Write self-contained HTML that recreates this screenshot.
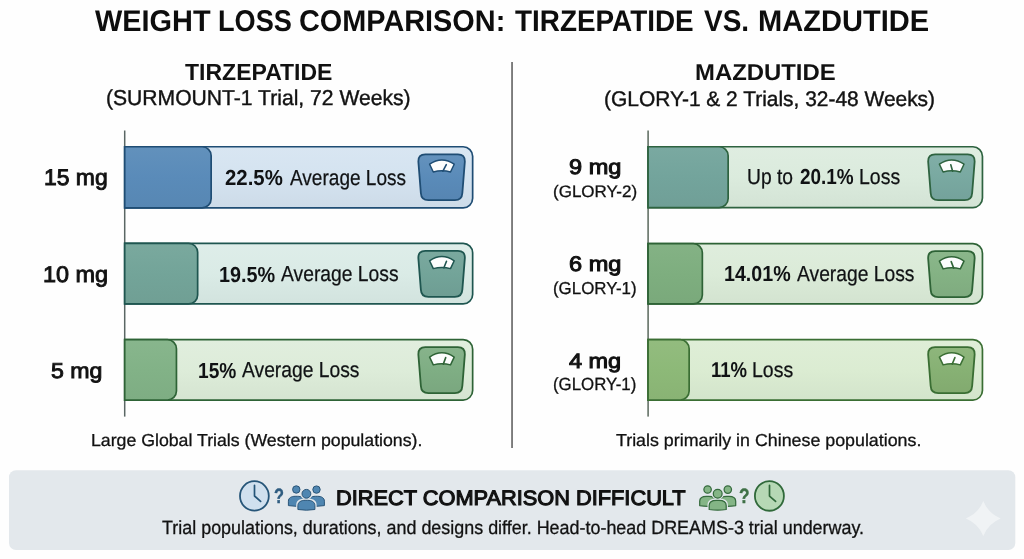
<!DOCTYPE html>
<html lang="en"><head><meta charset="utf-8"><title>Weight Loss Comparison: Tirzepatide vs. Mazdutide</title>
<style>
html,body{margin:0;padding:0;background:#fefefe;}
body{width:1024px;height:559px;position:relative;overflow:hidden;font-family:'Liberation Sans', sans-serif;text-rendering:geometricPrecision;}
.t{position:absolute;white-space:pre;line-height:1;transform-origin:0 0;}
svg{position:absolute;left:0;top:0;}
</style></head><body>
<svg width="1024" height="559" viewBox="0 0 1024 559"><rect x="511.1" y="62" width="1.9" height="386" fill="#7b7b7b"/><rect x="123.95" y="130.5" width="1.5" height="286.1" fill="#5a6664"/><rect x="647.3" y="130.5" width="1.6" height="286.1" fill="#647267"/><defs><linearGradient id="g1" x1="0" y1="0" x2="0" y2="1"><stop offset="0" stop-color="#d9e6f2"/><stop offset="0.5" stop-color="#d4e3f0"/><stop offset="1" stop-color="#cddbe8"/></linearGradient><linearGradient id="g2" x1="0" y1="0" x2="0" y2="1"><stop offset="0" stop-color="#6291bc"/><stop offset="0.5" stop-color="#5a8bb9"/><stop offset="1" stop-color="#5787b3"/></linearGradient><linearGradient id="g3" x1="0" y1="0" x2="0" y2="1"><stop offset="0" stop-color="#6492bd"/><stop offset="0.5" stop-color="#5a8bb9"/><stop offset="1" stop-color="#5685b2"/></linearGradient></defs><path d="M124.7,146.75 H463.15 A9.5,9.5 0 0 1 472.65,156.25 V198.35 A9.5,9.5 0 0 1 463.15,207.85 H124.7 Z" fill="url(#g1)" stroke="#1f4d74" stroke-width="1.7"/><path d="M124.7,146.75 H202.15 A9,9 0 0 1 211.15,155.75 V198.85 A9,9 0 0 1 202.15,207.85 H124.7 Z" fill="url(#g2)" stroke="#1f4d74" stroke-width="1.7"/><path d="M425.3,154.3 H457.9 Q465.1,154.3 464.85,161.5 L462.35,193 Q462,200.2 454.8,200.2 H428.4 Q421.2,200.2 420.85,193 L418.35,161.5 Q418.1,154.3 425.3,154.3 Z" fill="url(#g3)" stroke="#1f4d74" stroke-width="1.8" stroke-linejoin="round"/><path d="M429.6,164.2 Q441.9,155.6 454.2,164.2 L450.5,172.0 Q441.9,169.6 433.3,172.0 Z" fill="#fcfdfd" stroke="#1f4d74" stroke-width="1.5" stroke-linejoin="round"/><path d="M442.9,171.2 L446.3,164.7" stroke="#1f4d74" stroke-width="1.6" stroke-linecap="round" fill="none"/><defs><linearGradient id="g4" x1="0" y1="0" x2="0" y2="1"><stop offset="0" stop-color="#deede9"/><stop offset="0.5" stop-color="#daebe6"/><stop offset="1" stop-color="#d2e3de"/></linearGradient><linearGradient id="g5" x1="0" y1="0" x2="0" y2="1"><stop offset="0" stop-color="#7aa99e"/><stop offset="0.5" stop-color="#73a499"/><stop offset="1" stop-color="#709f94"/></linearGradient><linearGradient id="g6" x1="0" y1="0" x2="0" y2="1"><stop offset="0" stop-color="#7ba99f"/><stop offset="0.5" stop-color="#73a499"/><stop offset="1" stop-color="#6e9d93"/></linearGradient></defs><path d="M124.7,243.35 H463.15 A9.5,9.5 0 0 1 472.65,252.85 V294.45 A9.5,9.5 0 0 1 463.15,303.95 H124.7 Z" fill="url(#g4)" stroke="#1f5650" stroke-width="1.7"/><path d="M124.7,243.35 H188.65 A9,9 0 0 1 197.65,252.35 V294.95 A9,9 0 0 1 188.65,303.95 H124.7 Z" fill="url(#g5)" stroke="#1f5650" stroke-width="1.7"/><path d="M425.3,250.9 H457.9 Q465.1,250.9 464.85,258.1 L462.35,289.6 Q462,296.8 454.8,296.8 H428.4 Q421.2,296.8 420.85,289.6 L418.35,258.1 Q418.1,250.9 425.3,250.9 Z" fill="url(#g6)" stroke="#1f5650" stroke-width="1.8" stroke-linejoin="round"/><path d="M429.6,260.8 Q441.9,252.2 454.2,260.8 L450.5,268.6 Q441.9,266.2 433.3,268.6 Z" fill="#fcfdfd" stroke="#1f5650" stroke-width="1.5" stroke-linejoin="round"/><path d="M443.9,267.8 L446.5,261.3" stroke="#1f5650" stroke-width="1.6" stroke-linecap="round" fill="none"/><defs><linearGradient id="g7" x1="0" y1="0" x2="0" y2="1"><stop offset="0" stop-color="#e1eede"/><stop offset="0.5" stop-color="#ddecd9"/><stop offset="1" stop-color="#d5e4d1"/></linearGradient><linearGradient id="g8" x1="0" y1="0" x2="0" y2="1"><stop offset="0" stop-color="#88b68d"/><stop offset="0.5" stop-color="#82b287"/><stop offset="1" stop-color="#7ead83"/></linearGradient><linearGradient id="g9" x1="0" y1="0" x2="0" y2="1"><stop offset="0" stop-color="#87b38b"/><stop offset="0.5" stop-color="#7fae84"/><stop offset="1" stop-color="#7aa77f"/></linearGradient></defs><path d="M124.7,339.65 H463.15 A9.5,9.5 0 0 1 472.65,349.15 V390.55 A9.5,9.5 0 0 1 463.15,400.05 H124.7 Z" fill="url(#g7)" stroke="#2e6336" stroke-width="1.7"/><path d="M124.7,339.65 H167.45 A9,9 0 0 1 176.45,348.65 V391.05 A9,9 0 0 1 167.45,400.05 H124.7 Z" fill="url(#g8)" stroke="#2e6336" stroke-width="1.7"/><path d="M425.3,347.2 H457.9 Q465.1,347.2 464.85,354.4 L462.35,385.9 Q462,393.1 454.8,393.1 H428.4 Q421.2,393.1 420.85,385.9 L418.35,354.4 Q418.1,347.2 425.3,347.2 Z" fill="url(#g9)" stroke="#2e6336" stroke-width="1.8" stroke-linejoin="round"/><path d="M429.6,357.1 Q441.9,348.5 454.2,357.1 L450.5,364.9 Q441.9,362.5 433.3,364.9 Z" fill="#fcfdfd" stroke="#2e6336" stroke-width="1.5" stroke-linejoin="round"/><path d="M443.3,364.1 L445.7,357.6" stroke="#2e6336" stroke-width="1.6" stroke-linecap="round" fill="none"/><defs><linearGradient id="g10" x1="0" y1="0" x2="0" y2="1"><stop offset="0" stop-color="#dfede1"/><stop offset="0.5" stop-color="#dbebdd"/><stop offset="1" stop-color="#d3e3d5"/></linearGradient><linearGradient id="g11" x1="0" y1="0" x2="0" y2="1"><stop offset="0" stop-color="#7aa9a1"/><stop offset="0.5" stop-color="#73a49c"/><stop offset="1" stop-color="#709f97"/></linearGradient><linearGradient id="g12" x1="0" y1="0" x2="0" y2="1"><stop offset="0" stop-color="#81aea7"/><stop offset="0.5" stop-color="#79a9a1"/><stop offset="1" stop-color="#74a29b"/></linearGradient></defs><path d="M648.1,146.75 H972.95 A9.5,9.5 0 0 1 982.45,156.25 V198.05 A9.5,9.5 0 0 1 972.95,207.55 H648.1 Z" fill="url(#g10)" stroke="#2e6340" stroke-width="1.7"/><path d="M648.1,146.75 H719.15 A9,9 0 0 1 728.15,155.75 V198.55 A9,9 0 0 1 719.15,207.55 H648.1 Z" fill="url(#g11)" stroke="#2e6340" stroke-width="1.7"/><path d="M935.1,154.3 H967.7 Q974.9,154.3 974.65,161.5 L972.15,193 Q971.8,200.2 964.6,200.2 H938.2 Q931.0,200.2 930.65,193 L928.15,161.5 Q927.9,154.3 935.1,154.3 Z" fill="url(#g12)" stroke="#2e6340" stroke-width="1.8" stroke-linejoin="round"/><path d="M939.4,164.2 Q951.7,155.6 964,164.2 L960.3,172.0 Q951.7,169.6 943.1,172.0 Z" fill="#fcfdfd" stroke="#2e6340" stroke-width="1.5" stroke-linejoin="round"/><path d="M952.6,171.2 L950.8,164.7" stroke="#2e6340" stroke-width="1.6" stroke-linecap="round" fill="none"/><defs><linearGradient id="g13" x1="0" y1="0" x2="0" y2="1"><stop offset="0" stop-color="#dfeddd"/><stop offset="0.5" stop-color="#dbebd8"/><stop offset="1" stop-color="#d3e3d0"/></linearGradient><linearGradient id="g14" x1="0" y1="0" x2="0" y2="1"><stop offset="0" stop-color="#84b285"/><stop offset="0.5" stop-color="#7eae7f"/><stop offset="1" stop-color="#7aa97b"/></linearGradient><linearGradient id="g15" x1="0" y1="0" x2="0" y2="1"><stop offset="0" stop-color="#8bb78b"/><stop offset="0.5" stop-color="#84b284"/><stop offset="1" stop-color="#7fab7f"/></linearGradient></defs><path d="M648.1,243.65 H972.95 A9.5,9.5 0 0 1 982.45,253.15 V294.45 A9.5,9.5 0 0 1 972.95,303.95 H648.1 Z" fill="url(#g13)" stroke="#2e6336" stroke-width="1.7"/><path d="M648.1,243.65 H693.35 A9,9 0 0 1 702.35,252.65 V294.95 A9,9 0 0 1 693.35,303.95 H648.1 Z" fill="url(#g14)" stroke="#2e6336" stroke-width="1.7"/><path d="M935.1,251.2 H967.7 Q974.9,251.2 974.65,258.4 L972.15,289.9 Q971.8,297.1 964.6,297.1 H938.2 Q931.0,297.1 930.65,289.9 L928.15,258.4 Q927.9,251.2 935.1,251.2 Z" fill="url(#g15)" stroke="#2e6336" stroke-width="1.8" stroke-linejoin="round"/><path d="M939.4,261.1 Q951.7,252.5 964,261.1 L960.3,268.9 Q951.7,266.5 943.1,268.9 Z" fill="#fcfdfd" stroke="#2e6336" stroke-width="1.5" stroke-linejoin="round"/><path d="M953.7,268.1 L951.2,261.6" stroke="#2e6336" stroke-width="1.6" stroke-linecap="round" fill="none"/><defs><linearGradient id="g16" x1="0" y1="0" x2="0" y2="1"><stop offset="0" stop-color="#dfeed7"/><stop offset="0.5" stop-color="#dbecd2"/><stop offset="1" stop-color="#d3e4cb"/></linearGradient><linearGradient id="g17" x1="0" y1="0" x2="0" y2="1"><stop offset="0" stop-color="#93bc7f"/><stop offset="0.5" stop-color="#8db978"/><stop offset="1" stop-color="#89b374"/></linearGradient><linearGradient id="g18" x1="0" y1="0" x2="0" y2="1"><stop offset="0" stop-color="#8eb67c"/><stop offset="0.5" stop-color="#87b174"/><stop offset="1" stop-color="#82aa6f"/></linearGradient></defs><path d="M648.1,339.65 H972.95 A9.5,9.5 0 0 1 982.45,349.15 V390.55 A9.5,9.5 0 0 1 972.95,400.05 H648.1 Z" fill="url(#g16)" stroke="#3a6e33" stroke-width="1.7"/><path d="M648.1,339.65 H680.15 A9,9 0 0 1 689.15,348.65 V391.05 A9,9 0 0 1 680.15,400.05 H648.1 Z" fill="url(#g17)" stroke="#3a6e33" stroke-width="1.7"/><path d="M935.1,347.2 H967.7 Q974.9,347.2 974.65,354.4 L972.15,385.9 Q971.8,393.1 964.6,393.1 H938.2 Q931.0,393.1 930.65,385.9 L928.15,354.4 Q927.9,347.2 935.1,347.2 Z" fill="url(#g18)" stroke="#3a6e33" stroke-width="1.8" stroke-linejoin="round"/><path d="M939.4,357.1 Q951.7,348.5 964,357.1 L960.3,364.9 Q951.7,362.5 943.1,364.9 Z" fill="#fcfdfd" stroke="#3a6e33" stroke-width="1.5" stroke-linejoin="round"/><path d="M952.2,364.1 L954.9,357.6" stroke="#3a6e33" stroke-width="1.6" stroke-linecap="round" fill="none"/><rect x="9" y="470.2" width="1006.3" height="79.8" rx="7" fill="#e3e8ec"/><path d="M983.3,500.9 Q988.3,513.4 1000.7,518.4 Q988.3,523.4 983.3,535.9 Q978.3,523.4 965.9,518.4 Q978.3,513.4 983.3,500.9 Z" fill="#f0f3f5"/><ellipse cx="254.4" cy="495.9" rx="14.4" ry="14.7" fill="#d0e0ee" stroke="#265578" stroke-width="1.8"/><path d="M254.5,485.3 V496.0 L260.6,501.4" fill="none" stroke="#265578" stroke-width="1.7" stroke-linecap="round" stroke-linejoin="round"/><circle cx="296.3" cy="489.5" r="3.7" fill="#4f86b1" stroke="#2a5578" stroke-width="1.0"/><path d="M288.4,505.6 V501.2 C288.4,497.77 291.56,496.3 295.12,496.3 H297.49 C301.04,496.3 304.2,497.77 304.2,501.2 V505.6 Q296.3,507.0 288.4,505.6 Z" fill="#4f86b1" stroke="#2a5578" stroke-width="1.0" stroke-linejoin="round"/><circle cx="316.5" cy="489.6" r="3.7" fill="#4f86b1" stroke="#2a5578" stroke-width="1.0"/><path d="M308.6,505.6 V501.2 C308.6,497.77 311.76,496.3 315.31,496.3 H317.69 C321.24,496.3 324.4,497.77 324.4,501.2 V505.6 Q316.5,507.0 308.6,505.6 Z" fill="#4f86b1" stroke="#2a5578" stroke-width="1.0" stroke-linejoin="round"/><circle cx="306.4" cy="493.8" r="6.1" fill="#e3e8ec"/><path d="M296.2,511.5 V505 C296.2,500 300.4,498.6 306.4,498.6 C312.4,498.6 316.6,500 316.6,505 V511.5 Z" fill="#e3e8ec"/><circle cx="306.4" cy="493.8" r="4.4" fill="#4f86b1" stroke="#2a5578" stroke-width="1.0"/><path d="M297.9,509.5 V505.57 C297.9,501.88 301.3,500.3 305.12,500.3 H307.67 C311.5,500.3 314.9,501.88 314.9,505.57 V509.5 Q306.4,510.9 297.9,509.5 Z" fill="#4f86b1" stroke="#2a5578" stroke-width="1.0" stroke-linejoin="round"/><circle cx="707.6" cy="489.5" r="3.7" fill="#84b586" stroke="#366b3e" stroke-width="1.25"/><path d="M699.7,505.6 V501.2 C699.7,497.77 702.86,496.3 706.41,496.3 H708.78 C712.34,496.3 715.5,497.77 715.5,501.2 V505.6 Q707.6,507.0 699.7,505.6 Z" fill="#84b586" stroke="#366b3e" stroke-width="1.25" stroke-linejoin="round"/><circle cx="727.8" cy="489.6" r="3.7" fill="#84b586" stroke="#366b3e" stroke-width="1.25"/><path d="M719.9,505.6 V501.2 C719.9,497.77 723.06,496.3 726.62,496.3 H728.98 C732.54,496.3 735.7,497.77 735.7,501.2 V505.6 Q727.8,507.0 719.9,505.6 Z" fill="#84b586" stroke="#366b3e" stroke-width="1.25" stroke-linejoin="round"/><circle cx="717.7" cy="493.8" r="6.1" fill="#e3e8ec"/><path d="M707.5,511.5 V505 C707.5,500 711.7,498.6 717.7,498.6 C723.7,498.6 727.9,500 727.9,505 V511.5 Z" fill="#e3e8ec"/><circle cx="717.7" cy="493.8" r="4.4" fill="#84b586" stroke="#366b3e" stroke-width="1.25"/><path d="M709.2,509.5 V505.57 C709.2,501.88 712.6,500.3 716.42,500.3 H718.97 C722.8,500.3 726.2,501.88 726.2,505.57 V509.5 Q717.7,510.9 709.2,509.5 Z" fill="#84b586" stroke="#366b3e" stroke-width="1.25" stroke-linejoin="round"/><ellipse cx="769.4" cy="495.95" rx="14.5" ry="14.8" fill="#b6d8b5" stroke="#30693a" stroke-width="1.8"/><path d="M769.5,485.35 V496.05 L775.6,501.45" fill="none" stroke="#30693a" stroke-width="1.7" stroke-linecap="round" stroke-linejoin="round"/></svg>
<div class="t" style="left:94.75px;top:7px;font-size:29.93px;font-weight:700;color:#0d0d0d;transform:scaleX(0.9660);">WEIGHT</div>
<div class="t" style="left:217.68px;top:7px;font-size:29.93px;font-weight:700;color:#0d0d0d;transform:scaleX(0.9075);">LOSS</div>
<div class="t" style="left:299.04px;top:7px;font-size:29.93px;font-weight:700;color:#0d0d0d;transform:scaleX(0.9643);">COMPARISON:</div>
<div class="t" style="left:514.50px;top:7px;font-size:29.93px;font-weight:700;color:#0d0d0d;transform:scaleX(0.9319);">TIRZEPATIDE</div>
<div class="t" style="left:703.75px;top:7px;font-size:29.93px;font-weight:700;color:#0d0d0d;transform:scaleX(0.9352);">VS.</div>
<div class="t" style="left:757.56px;top:7px;font-size:29.93px;font-weight:700;color:#0d0d0d;transform:scaleX(0.9709);">MAZDUTIDE</div>
<div class="t" style="left:185.00px;top:61px;font-size:23.33px;font-weight:700;color:#111;transform:scaleX(0.9866);">TIRZEPATIDE</div>
<div class="t" style="left:105.77px;top:87px;font-size:21.58px;font-weight:400;color:#121212;transform:scaleX(0.9782);-webkit-text-stroke:0.4px #121212;">(SURMOUNT-1 Trial, 72 Weeks)</div>
<div class="t" style="left:694.96px;top:61px;font-size:23.04px;font-weight:700;color:#111;transform:scaleX(1.0373);">MAZDUTIDE</div>
<div class="t" style="left:604.01px;top:89px;font-size:21.14px;font-weight:400;color:#121212;transform:scaleX(0.9905);-webkit-text-stroke:0.4px #121212;">(GLORY-1 &amp; 2 Trials, 32-48 Weeks)</div>
<div class="t" style="left:43.74px;top:167px;font-size:22.62px;font-weight:400;color:#111;transform:scaleX(1.0139);-webkit-text-stroke:0.9px #111;">15 mg</div>
<div class="t" style="left:42.97px;top:263px;font-size:22.69px;font-weight:400;color:#111;transform:scaleX(1.0316);-webkit-text-stroke:0.9px #111;">10 mg</div>
<div class="t" style="left:50.50px;top:360px;font-size:21.58px;font-weight:400;color:#111;transform:scaleX(1.0733);-webkit-text-stroke:0.9px #111;">5 mg</div>
<div class="t" style="left:224.80px;top:167px;font-size:21.74px;font-weight:700;color:#101214;transform:scaleX(0.9377);">22.5%</div>
<div class="t" style="left:289.53px;top:167px;font-size:21.80px;font-weight:400;color:#101214;transform:scaleX(0.8732);-webkit-text-stroke:0.25px #101214;">Average Loss</div>
<div class="t" style="left:218.99px;top:264px;font-size:21.74px;font-weight:700;color:#101214;transform:scaleX(0.9117);">19.5%</div>
<div class="t" style="left:281.03px;top:263px;font-size:21.80px;font-weight:400;color:#101214;transform:scaleX(0.8846);-webkit-text-stroke:0.25px #101214;">Average Loss</div>
<div class="t" style="left:198.12px;top:360px;font-size:21.74px;font-weight:700;color:#101214;transform:scaleX(0.8810);">15%</div>
<div class="t" style="left:242.43px;top:359px;font-size:21.80px;font-weight:400;color:#101214;transform:scaleX(0.8838);-webkit-text-stroke:0.25px #101214;">Average Loss</div>
<div class="t" style="left:569.40px;top:157px;font-size:21.14px;font-weight:400;color:#111;transform:scaleX(1.1144);-webkit-text-stroke:1.0px #111;">9 mg</div>
<div class="t" style="left:552.99px;top:184px;font-size:16.59px;font-weight:400;color:#121212;transform:scaleX(1.0256);-webkit-text-stroke:0.3px #121212;">(GLORY-2)</div>
<div class="t" style="left:569.40px;top:254px;font-size:21.14px;font-weight:400;color:#111;transform:scaleX(1.1144);-webkit-text-stroke:1.0px #111;">6 mg</div>
<div class="t" style="left:553.33px;top:280px;font-size:17.32px;font-weight:400;color:#121212;transform:scaleX(0.9755);-webkit-text-stroke:0.3px #121212;">(GLORY-1)</div>
<div class="t" style="left:569.00px;top:352px;font-size:20.84px;font-weight:400;color:#111;transform:scaleX(1.1261);-webkit-text-stroke:1.0px #111;">4 mg</div>
<div class="t" style="left:553.34px;top:376px;font-size:17.68px;font-weight:400;color:#121212;transform:scaleX(0.9530);-webkit-text-stroke:0.3px #121212;">(GLORY-1)</div>
<div class="t" style="left:747.42px;top:166px;font-size:21.80px;font-weight:400;color:#101214;transform:scaleX(0.8824);-webkit-text-stroke:0.25px #101214;">Up to</div>
<div class="t" style="left:800.05px;top:166px;font-size:21.74px;font-weight:700;color:#101214;transform:scaleX(0.8714);">20.1%</div>
<div class="t" style="left:858.81px;top:166px;font-size:21.80px;font-weight:400;color:#101214;transform:scaleX(0.8933);-webkit-text-stroke:0.25px #101214;">Loss</div>
<div class="t" style="left:724.10px;top:263px;font-size:21.74px;font-weight:700;color:#101214;transform:scaleX(0.9042);">14.01%</div>
<div class="t" style="left:796.53px;top:263px;font-size:21.80px;font-weight:400;color:#101214;transform:scaleX(0.8838);-webkit-text-stroke:0.25px #101214;">Average Loss</div>
<div class="t" style="left:711.33px;top:360px;font-size:21.45px;font-weight:700;color:#101214;transform:scaleX(0.8652);">11%</div>
<div class="t" style="left:752.49px;top:360px;font-size:21.51px;font-weight:400;color:#101214;transform:scaleX(0.9068);-webkit-text-stroke:0.25px #101214;">Loss</div>
<div class="t" style="left:91.48px;top:432px;font-size:17.37px;font-weight:400;color:#121212;transform:scaleX(1.0201);-webkit-text-stroke:0.3px #121212;">Large Global Trials (Western populations).</div>
<div class="t" style="left:616.25px;top:432px;font-size:17.37px;font-weight:400;color:#121212;transform:scaleX(1.0264);-webkit-text-stroke:0.3px #121212;">Trials primarily in Chinese populations.</div>
<div class="t" style="left:336.46px;top:489px;font-size:20.87px;font-weight:400;color:#111;transform:scaleX(1.0440);-webkit-text-stroke:1.1px #111;">DIRECT COMPARISON DIFFICULT</div>
<div class="t" style="left:162.00px;top:519px;font-size:19.14px;font-weight:400;color:#121212;transform:scaleX(0.9372);-webkit-text-stroke:0.3px #121212;">Trial populations, durations, and designs differ. Head-to-head DREAMS-3 trial underway.</div>
<div class="t" style="left:274.14px;top:487px;font-size:20.72px;font-weight:700;color:#2f5c80;transform:scaleX(0.7881);-webkit-text-stroke:0.4px #2f5c80;">?</div>
<div class="t" style="left:738.91px;top:487px;font-size:20.72px;font-weight:700;color:#3f7046;transform:scaleX(0.8328);-webkit-text-stroke:0.4px #3f7046;">?</div>
</body></html>
